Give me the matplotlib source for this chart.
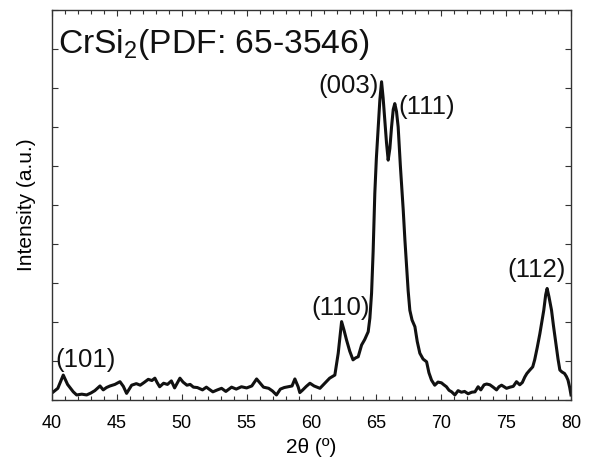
import matplotlib
matplotlib.use("Agg")
import matplotlib.pyplot as plt
from matplotlib.ticker import MultipleLocator, NullFormatter

plt.rcParams['font.family'] = ['Liberation Sans', 'DejaVu Sans']
plt.rcParams['mathtext.default'] = 'regular'

# XRD pattern (2theta in degrees, intensity in a.u.)
two_theta = [
    40.0, 40.45, 40.87, 41.2, 41.64, 41.9, 42.3, 42.67, 43.0, 43.3, 43.7, 43.95,
    44.2, 44.47, 44.85, 45.24, 45.5, 45.75, 46.14, 46.5, 46.8, 47.1, 47.42, 47.7,
    47.93, 48.1, 48.3, 48.6, 48.9, 49.2, 49.45, 49.86, 50.1, 50.4, 50.65, 50.9,
    51.2, 51.6, 51.9, 52.1, 52.4, 52.75, 53.07, 53.4, 53.84, 54.2, 54.6, 55.0,
    55.4, 55.77, 56.0, 56.3, 56.7, 57.0, 57.3, 57.6, 57.9, 58.2, 58.5, 58.72,
    58.97, 59.1, 59.3, 59.6, 59.88, 60.2, 60.65, 61.0, 61.4, 61.8, 62.06, 62.32,
    62.5, 62.7, 62.95, 63.2, 63.4, 63.6, 63.86, 64.1, 64.37, 64.5, 64.63, 64.75,
    64.88, 65.0, 65.14, 65.27, 65.4, 65.52, 65.65, 65.78, 65.91, 66.04, 66.17,
    66.3, 66.42, 66.55, 66.68, 66.85, 67.07, 67.2, 67.33, 67.45, 67.58, 67.75,
    67.97, 68.15, 68.35, 68.6, 68.87, 69.05, 69.25, 69.5, 69.75, 70.02, 70.2,
    70.4, 70.6, 70.8, 71.05, 71.3, 71.55, 71.8, 72.07, 72.35, 72.6, 72.84, 73.05,
    73.3, 73.5, 73.75, 74.0, 74.26, 74.45, 74.65, 75.03, 75.3, 75.55, 75.8, 76.05,
    76.25, 76.44, 76.6, 76.83, 77.05, 77.2, 77.4, 77.6, 77.75, 77.9, 78.05, 78.16,
    78.3, 78.5, 78.65, 78.83, 79.0, 79.14, 79.3, 79.5, 79.65, 79.77, 79.9, 80.0,
]
intensity = [
    1.8, 3.0, 6.4, 4.0, 2.1, 1.3, 1.5, 1.3, 1.8, 2.4, 3.6, 2.6,
    3.2, 3.6, 4.0, 4.7, 3.5, 1.7, 3.8, 4.2, 3.8, 4.5, 5.3, 5.0,
    5.6, 4.5, 3.4, 4.3, 4.0, 4.9, 3.1, 5.6, 4.6, 3.8, 4.0, 3.3,
    3.2, 2.6, 3.3, 2.8, 2.1, 2.6, 3.0, 2.2, 3.3, 2.8, 3.4, 3.1,
    3.6, 5.4, 4.5, 3.3, 3.0, 2.3, 1.3, 2.8, 3.2, 3.4, 3.6, 5.4,
    3.4, 1.9, 2.5, 3.5, 4.3, 3.6, 3.0, 4.2, 5.6, 6.4, 12.0, 20.1,
    18.0, 15.4, 12.5, 10.3, 10.8, 11.1, 14.1, 15.5, 17.5, 21.0, 27.4, 38.0,
    53.0, 62.0, 70.0, 77.0, 81.6, 77.5, 71.8, 66.0, 61.5, 64.5, 70.0,
    74.5, 76.0, 74.0, 70.0, 60.0, 48.7, 41.0, 34.0, 28.0, 23.0, 20.5,
    18.8, 15.0, 12.0, 10.5, 9.8, 7.0, 5.1, 3.8, 4.6, 4.4, 3.9,
    3.4, 2.5, 2.1, 1.3, 2.4, 2.0, 2.2, 1.6, 2.0, 2.1, 3.4, 2.6,
    3.9, 4.1, 3.9, 3.3, 2.6, 3.4, 3.8, 3.0, 3.3, 3.5, 4.7, 3.9,
    4.5, 5.9, 6.8, 7.7, 8.5, 10.3, 13.5, 17.0, 20.0, 23.0, 27.0, 28.6,
    26.5, 23.0, 19.0, 14.6, 10.5, 7.7, 7.2, 6.8, 6.0, 5.1, 3.2, 1.3,
]

peak_labels = ["(101)", "(110)", "(003)", "(111)", "(112)"]
label_x = [40.23, 60.0, 60.52, 66.68, 75.13]
label_y = [10.3, 23.6, 80.5, 75.0, 33.3]

fig = plt.figure(figsize=(5.9, 4.58), dpi=100)
ax = fig.add_axes([0.0881, 0.1266, 0.8797, 0.8516])

ax.plot(two_theta, intensity, color='#111111', linewidth=2.2)

for lab, lx, ly in zip(peak_labels, label_x, label_y):
    ax.text(lx, ly, lab, fontsize=18.5, ha='left', va='center', color='#111111')

ax.text(0.0116, 0.89, "CrSi$_2$(PDF: 65-3546)", transform=ax.transAxes,
        fontsize=24.2, ha='left', va='baseline', color='#111111')

ax.set_xlim(40, 80)
ax.set_ylim(0, 100)
ax.xaxis.set_major_locator(MultipleLocator(5))
ax.xaxis.set_minor_locator(MultipleLocator(1))
ax.yaxis.set_major_locator(MultipleLocator(10))
ax.yaxis.set_major_formatter(NullFormatter())

ax.tick_params(which='both', direction='in', top=True, right=True,
               width=0.8, color='#333333')
ax.tick_params(which='major', length=4)
ax.tick_params(which='minor', length=3)
ax.tick_params(axis='x', labelsize=13, pad=11)
for s in ax.spines.values():
    s.set_linewidth(1.0)
    s.set_color('#333333')

ax.set_xlabel("2θ (º)", fontsize=15, labelpad=4)
ax.set_ylabel("Intensity (a.u.)", fontsize=15, labelpad=8)

fig.savefig("out.png", dpi=100)
